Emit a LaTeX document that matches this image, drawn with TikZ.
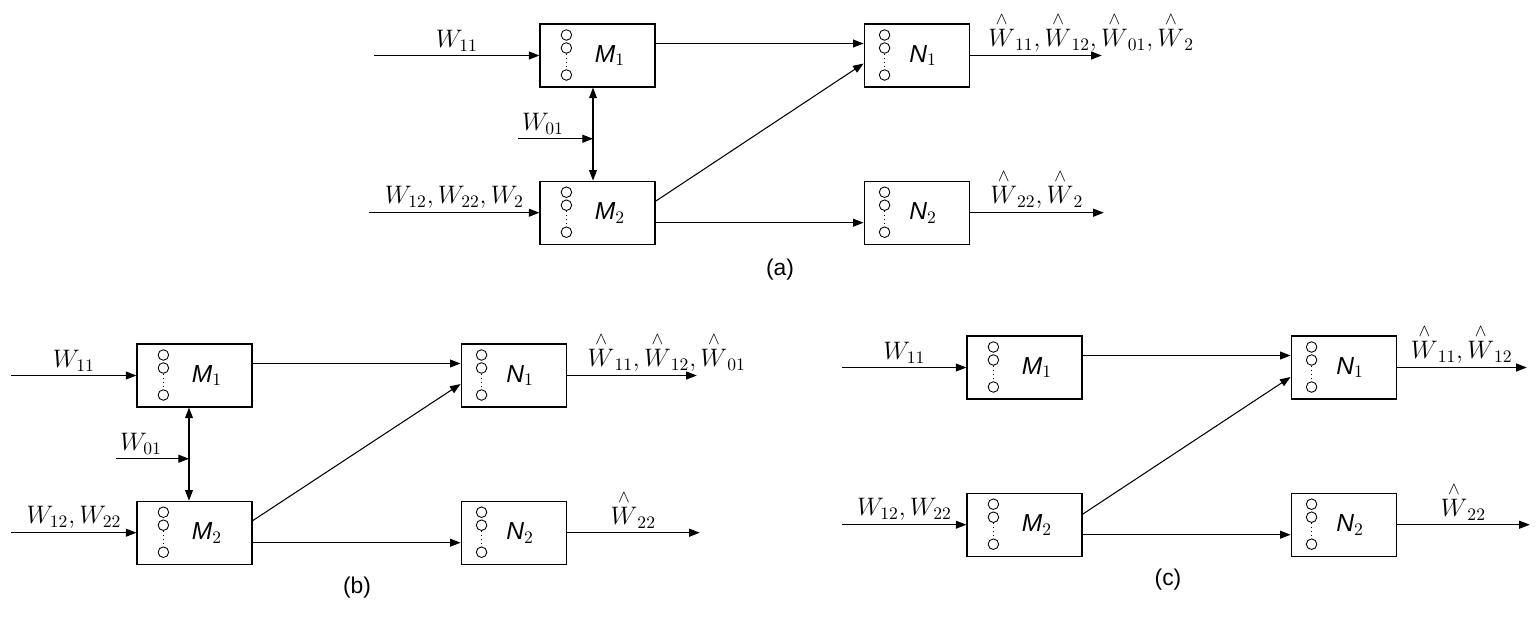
\documentclass[tikz,border=0pt]{standalone}
\usepackage{amsmath}
\usepackage{fontspec}
\newfontfamily\capfont{Liberation Sans}
\usetikzlibrary{arrows.meta,positioning,calc}

\newcommand{\tapstack}[2]{%
  \draw[line width=0.5pt] (#1.west) ++(#2,-20.5) circle[radius=3pt] ++(0,13) circle[radius=3pt];
  \draw[dotted] (#1.west) ++(#2,-2) -- ++(0,16);
  \draw[line width=0.5pt] (#1.west) ++(#2,19.5) circle[radius=3pt];
}
\newcommand{\blk}[2]{{\capfont\itshape #1}$_{#2}$}
\newcommand{\est}[1]{\overset{\wedge}{W}_{#1}}

\begin{document}
\begin{tikzpicture}[x=0.02cm,y=-0.02cm,
  node distance=1.86cm and 4.16cm,
  mbox/.style={draw,line width=0.7pt,minimum width=2.3cm,minimum height=1.26cm,inner sep=0pt,font=\fontsize{14}{16}\selectfont},
  nbox/.style={mbox,minimum width=2.1cm},
  arr/.style={line width=0.6pt,-{Triangle[length=6pt,width=4.5pt]}},
  dbl/.style={line width=0.6pt,{Triangle[length=6pt,width=4.5pt]}-{Triangle[length=6pt,width=4.5pt]}},
  lbl/.style={font=\fontsize{14}{17}\selectfont,inner sep=2pt},
  tag/.style={font=\capfont\fontsize{13}{16}\selectfont}
]
  \useasboundingbox (0,0) rectangle (1538,616);

  % (a)
  \node[mbox] (aM1) at (597.5,55.5) {\hspace{0.5cm}\blk{M}{1}};
  \node[mbox,below=of aM1] (aM2) {\hspace{0.5cm}\blk{M}{2}};
  \node[nbox,right=of aM1] (aN1) {\hspace{0.26cm}\blk{N}{1}};
  \node[nbox,right=of aM2] (aN2) {\hspace{0.26cm}\blk{N}{2}};
  \tapstack{aM1}{27} \tapstack{aM2}{27}
  \tapstack{aN1}{21} \tapstack{aN2}{21}

  \coordinate (aW11) at ($(aM1.west)+(-165,0)$);
  \coordinate (aW12) at ($(aM2.west)+(-170,0)$);
  \draw[arr] (aW11) -- (aM1.west) node[lbl,midway,above] {$W_{11}$};
  \draw[arr] (aW12) -- (aM2.west) node[lbl,midway,above] {$W_{12},W_{22},W_2$};
  \draw[dbl] ($(aM1.south)+(-4.5,0)$) -- ($(aM2.north)+(-4.5,0)$) coordinate[pos=0.55] (aJ);
  \coordinate (aW01) at ($(aJ)+(-75,0)$);
  \draw[arr] (aW01) -- (aJ) node[lbl,pos=0,above right] {$W_{01}$};

  \draw[arr] ($(aM1.east)+(0,-12)$) -- ($(aN1.west)+(0,-12)$);
  \draw[arr] ($(aM2.east)+(0,-11.5)$) -- ($(aN1.west)+(0,8)$);
  \draw[arr] ($(aM2.east)+(0,10)$) -- ($(aN2.west)+(0,10)$);

  \coordinate (aO1) at ($(aN1.east)+(132,0)$);
  \coordinate (aO2) at ($(aN2.east)+(134,0)$);
  \draw[arr] (aN1.east) -- (aO1) node[lbl,pos=0.11,above right] {$\est{11},\est{12},\est{01},\est{2}$};
  \draw[arr] (aN2.east) -- (aO2) node[lbl,midway,above] {$\est{22},\est{2}$};
  \node[tag] (aTag) at (780,270) {(a)};

  % (b)
  \node[mbox] (bM1) at (194.5,375.5) {\hspace{0.5cm}\blk{M}{1}};
  \node[mbox,below=of bM1] (bM2) {\hspace{0.5cm}\blk{M}{2}};
  \node[nbox,right=of bM1] (bN1) {\hspace{0.26cm}\blk{N}{1}};
  \node[nbox,right=of bM2] (bN2) {\hspace{0.26cm}\blk{N}{2}};
  \tapstack{bM1}{27} \tapstack{bM2}{27}
  \tapstack{bN1}{21} \tapstack{bN2}{21}

  \coordinate (bW11) at ($(bM1.west)+(-125,0)$);
  \coordinate (bW12) at ($(bM2.west)+(-125,0)$);
  \draw[arr] (bW11) -- (bM1.west) node[lbl,midway,above] {$W_{11}$};
  \draw[arr] (bW12) -- (bM2.west) node[lbl,midway,above] {$W_{12},W_{22}$};
  \draw[dbl] ($(bM1.south)+(-5.5,0)$) -- ($(bM2.north)+(-5.5,0)$) coordinate[pos=0.55] (bJ);
  \coordinate (bW01) at ($(bJ)+(-73,0)$);
  \draw[arr] (bW01) -- (bJ) node[lbl,pos=0,above right] {$W_{01}$};

  \draw[arr] ($(bM1.east)+(0,-12)$) -- ($(bN1.west)+(0,-12)$);
  \draw[arr] ($(bM2.east)+(0,-12)$) -- ($(bN1.west)+(0,8.5)$);
  \draw[arr] ($(bM2.east)+(0,10)$) -- ($(bN2.west)+(0,10)$);

  \coordinate (bO1) at ($(bN1.east)+(130,0)$);
  \coordinate (bO2) at ($(bN2.east)+(133,0)$);
  \draw[arr] (bN1.east) -- (bO1) node[lbl,pos=0.13,above right] {$\est{11},\est{12},\est{01}$};
  \draw[arr] (bN2.east) -- (bO2) node[lbl,midway,above] {$\est{22}$};
  \node[tag] (bTag) at (357,588) {(b)};

  % (c)
  \node[mbox] (cM1) at (1024.5,367.5) {\hspace{0.5cm}\blk{M}{1}};
  \node[mbox,below=of cM1] (cM2) {\hspace{0.5cm}\blk{M}{2}};
  \node[nbox,right=of cM1] (cN1) {\hspace{0.26cm}\blk{N}{1}};
  \node[nbox,right=of cM2] (cN2) {\hspace{0.26cm}\blk{N}{2}};
  \tapstack{cM1}{27} \tapstack{cM2}{27}
  \tapstack{cN1}{21} \tapstack{cN2}{21}

  \coordinate (cW11) at ($(cM1.west)+(-124,0)$);
  \coordinate (cW12) at ($(cM2.west)+(-124,0)$);
  \draw[arr] (cW11) -- (cM1.west) node[lbl,midway,above] {$W_{11}$};
  \draw[arr] (cW12) -- (cM2.west) node[lbl,midway,above] {$W_{12},W_{22}$};

  \draw[arr] ($(cM1.east)+(0,-12)$) -- ($(cN1.west)+(0,-12)$);
  \draw[arr] ($(cM2.east)+(0,-10.5)$) -- ($(cN1.west)+(0,9.5)$);
  \draw[arr] ($(cM2.east)+(0,10)$) -- ($(cN2.west)+(0,10)$);

  \coordinate (cO1) at ($(cN1.east)+(130,0)$);
  \coordinate (cO2) at ($(cN2.east)+(133,0)$);
  \draw[arr] (cN1.east) -- (cO1) node[lbl,midway,above] {$\est{11},\est{12}$};
  \draw[arr] (cN2.east) -- (cO2) node[lbl,midway,above] {$\est{22}$};
  \node[tag] (cTag) at (1168,580) {(c)};
\end{tikzpicture}
\end{document}
